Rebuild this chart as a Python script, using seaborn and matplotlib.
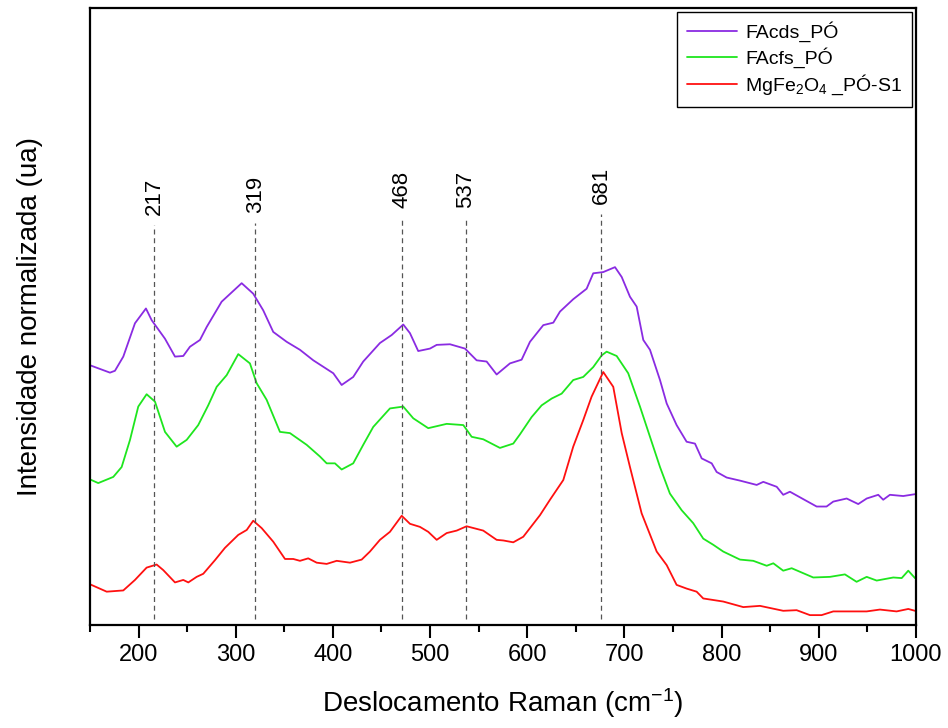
import numpy as np
import matplotlib
matplotlib.use('Agg')
import matplotlib.pyplot as plt
from matplotlib.ticker import MultipleLocator
import pandas as pd
import seaborn as sns

# Raman spectra (shift in cm-1, normalized intensity, offset curves)
shift_fads = [150, 170.6, 175.7, 184.3, 196.3, 207.6, 213.5, 227.2, 237.5, 246.0, 252.9, 263.2,
              270.1, 285.5, 306.1, 318.0, 328.3, 338.6, 352.4, 366.1, 379.8, 400.4, 409.0, 420.9,
              431.2, 448.4, 460.5, 472.4, 479.3, 487.8, 499.9, 506.8, 520.5, 535.9, 547.9, 558.2,
              568.5, 582.2, 594.2, 602.8, 616.5, 626.8, 633.7, 647.3, 661.1, 667.9, 678.2, 690.3,
              697.2, 705.7, 712.6, 719.4, 726.3, 736.6, 743.5, 753.7, 764.0, 772.6, 779.5, 789.8,
              794.9, 805.2, 818.9, 836.1, 842.9, 856.7, 863.4, 870.3, 884.0, 897.8, 908.0, 914.9,
              928.7, 940.6, 949.3, 961.2, 966.3, 973.2, 986.9, 999]
int_fads = [42.1, 40.9, 41.2, 43.5, 48.9, 51.3, 49.4, 46.4, 43.5, 43.6, 45.1, 46.2,
            48.3, 52.4, 55.4, 53.7, 51.0, 47.5, 45.9, 44.6, 42.9, 40.8, 38.9, 40.2,
            42.7, 45.7, 47.0, 48.7, 47.3, 44.4, 44.8, 45.4, 45.5, 44.8, 42.9, 42.7,
            40.6, 42.4, 43.0, 45.9, 48.6, 49.0, 50.8, 52.8, 54.5, 57.0, 57.2, 58.0,
            56.4, 53.2, 51.6, 46.2, 44.6, 39.7, 35.9, 32.4, 29.7, 29.4, 27.0, 26.2,
            24.8, 23.9, 23.4, 22.7, 23.2, 22.4, 21.1, 21.6, 20.4, 19.2, 19.2, 20.0,
            20.5, 19.6, 20.5, 21.1, 20.3, 21.1, 20.9, 21.2]

shift_fafs = [150, 158.5, 174.0, 182.6, 191.2, 199.7, 208.3, 216.9, 227.2, 239.2, 249.5, 261.4,
              271.7, 280.4, 290.7, 302.6, 314.6, 321.5, 331.8, 345.5, 355.8, 373.0, 386.7, 393.6,
              402.1, 409.0, 420.9, 431.2, 441.5, 458.7, 472.4, 482.7, 498.1, 517.1, 534.2, 542.8,
              554.7, 571.9, 585.6, 592.5, 604.5, 614.8, 625.1, 635.4, 647.3, 657.6, 667.9, 676.6,
              681.7, 692.0, 703.9, 716.0, 726.3, 736.6, 746.8, 758.9, 770.8, 781.1, 791.4, 801.7,
              818.9, 832.6, 846.4, 853.2, 863.4, 872.1, 894.3, 911.5, 926.9, 938.9, 949.3, 959.6,
              976.7, 985.3, 992.1, 999]
int_fafs = [23.6, 23.0, 24.0, 25.6, 30.0, 35.4, 37.4, 36.2, 31.3, 28.9, 30.0, 32.4,
            35.6, 38.6, 40.5, 43.9, 42.4, 39.2, 36.5, 31.3, 31.1, 29.2, 27.3, 26.2,
            26.2, 25.2, 26.2, 29.2, 32.1, 35.1, 35.4, 33.5, 31.9, 32.6, 32.4, 30.5,
            30.1, 28.7, 29.4, 30.9, 33.7, 35.6, 36.7, 37.5, 39.7, 40.2, 41.8, 43.7,
            44.3, 43.6, 40.8, 35.4, 30.5, 25.6, 21.3, 18.6, 16.5, 14.0, 13.0, 11.9,
            10.6, 10.4, 9.6, 10.0, 8.8, 9.2, 7.7, 7.8, 8.2, 7.0, 7.8, 7.2,
            7.7, 7.6, 8.8, 7.6]

shift_mgfe = [150, 167.2, 184.3, 196.3, 208.3, 218.6, 225.4, 237.5, 246.0, 251.2, 259.8, 266.6,
              278.6, 288.9, 302.6, 311.3, 318.0, 326.7, 338.6, 350.7, 359.2, 366.1, 374.6, 383.3,
              393.6, 403.9, 417.6, 429.6, 438.1, 448.4, 458.7, 470.8, 479.3, 489.6, 498.1, 506.8,
              517.1, 527.4, 537.6, 554.7, 568.5, 575.3, 585.6, 595.9, 613.1, 623.4, 637.1, 647.3,
              657.6, 666.2, 678.2, 688.5, 697.2, 705.7, 717.7, 733.2, 743.5, 753.7, 764.0, 774.3,
              781.1, 801.7, 822.3, 839.5, 863.4, 877.2, 890.9, 902.9, 914.9, 932.1, 949.3, 962.9,
              980.1, 992.1, 999]
int_mgfe = [6.6, 5.4, 5.6, 7.3, 9.3, 9.8, 8.9, 6.9, 7.3, 6.9, 7.8, 8.3,
            10.5, 12.5, 14.6, 15.4, 16.9, 15.7, 13.5, 10.7, 10.7, 10.4, 10.8, 10.1,
            9.9, 10.4, 10.1, 10.6, 11.9, 13.8, 15.1, 17.7, 16.4, 15.9, 15.1, 13.8,
            14.9, 15.3, 16.0, 15.3, 13.8, 13.7, 13.4, 14.3, 17.8, 20.3, 23.5, 28.9,
            33.2, 37.0, 41.0, 38.6, 31.1, 25.6, 18.1, 11.9, 9.7, 6.5, 5.9, 5.4,
            4.3, 3.8, 2.9, 3.1, 2.3, 2.4, 1.6, 1.6, 2.2, 2.2, 2.2, 2.5,
            2.2, 2.6, 2.3]

series_names = ['FAcds_PÓ', 'FAcfs_PÓ', 'MgFe$_2$O$_4$ _PÓ-S1']
series_colors = ['#8a2be2', '#1ee61e', '#ff1010']

# peak markers: label text and position of the dashed line
peak_labels = ['217', '319', '468', '537', '681']
peak_lines = [216, 320, 471, 537, 676]
peak_tops = [64.8, 65.2, 66.0, 66.0, 66.6]

frames = []
for name, xs, ys in zip(series_names, [shift_fads, shift_fafs, shift_mgfe],
                        [int_fads, int_fafs, int_mgfe]):
    frames.append(pd.DataFrame({'shift': xs, 'intensity': ys, 'amostra': name}))
df = pd.concat(frames, ignore_index=True)

sns.set_style('ticks')
plt.rcParams['font.family'] = ['Liberation Sans', 'DejaVu Sans']
plt.rcParams['mathtext.default'] = 'regular'
plt.rcParams['text.color'] = 'black'
plt.rcParams['axes.labelcolor'] = 'black'
plt.rcParams['xtick.color'] = 'black'

fig = plt.figure(figsize=(9.48, 7.28), dpi=100)
ax = fig.add_axes([0.0949, 0.1415, 0.8713, 0.8475])

sns.lineplot(data=df, x='shift', y='intensity', hue='amostra', hue_order=series_names,
             palette=series_colors, sort=False, estimator=None, linewidth=1.3, ax=ax)

for pos, top, lab in zip(peak_lines, peak_tops, peak_labels):
    ax.plot([pos, pos], [1.0, top], linestyle=(0, (4, 3)), color='#555555', linewidth=0.9)
    ax.text(pos, top + 1.6, lab, rotation=90, ha='center', va='bottom', fontsize=16)

ax.set_xlim(150, 1000)
ax.set_ylim(0, 100)
ax.xaxis.set_major_locator(MultipleLocator(100))
ax.xaxis.set_minor_locator(MultipleLocator(50))
ax.set_xticks(range(200, 1001, 100))
ax.set_yticks([])
ax.tick_params(axis='x', which='major', length=9, width=1.5, labelsize=17, pad=5,
               direction='out', labelcolor='black')
ax.tick_params(axis='x', which='minor', length=5, width=1.5, direction='out')
for sp in ax.spines.values():
    sp.set_visible(True)
    sp.set_linewidth(1.6)
    sp.set_color('black')

ax.set_xlabel('Deslocamento Raman (cm$^{-1}$)', fontsize=20, labelpad=14)
ax.set_ylabel('Intensidade normalizada (ua)', fontsize=20, labelpad=34)

leg = ax.legend(loc='upper right', fontsize=14, frameon=True, fancybox=False,
                edgecolor='black', borderaxespad=0.2, handlelength=2.6,
                labelspacing=0.25, borderpad=0.5, handletextpad=0.4)
leg.get_frame().set_linewidth(1.0)
leg.get_frame().set_alpha(1)
leg.set_title(None)

fig.savefig('out.png', dpi=100)
